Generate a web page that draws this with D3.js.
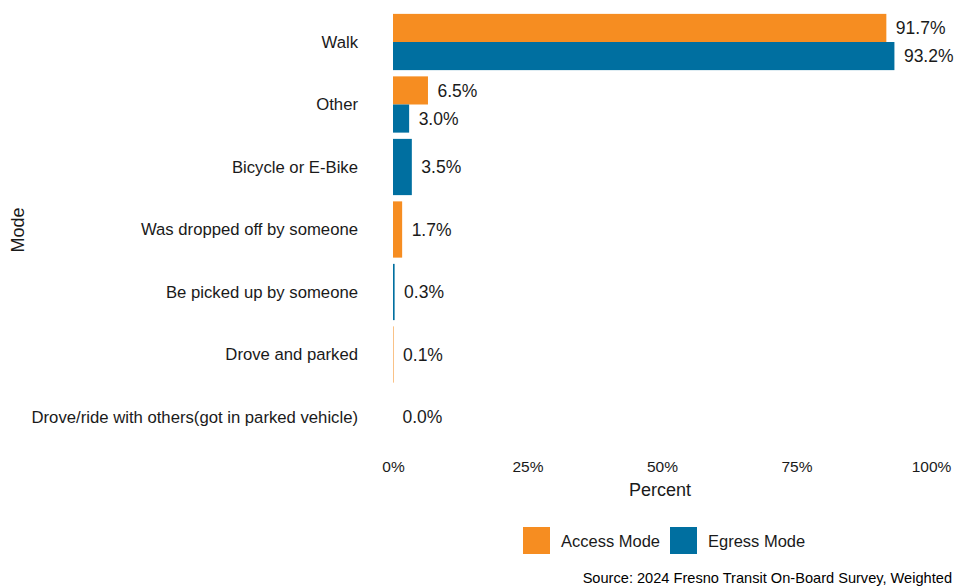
<!DOCTYPE html>
<html>
<head>
<meta charset="utf-8">
<script src="https://cdn.jsdelivr.net/npm/d3@7"></script>
<style>
  html, body { margin: 0; padding: 0; background: #fff; }
  svg { display: block; font-family: "Liberation Sans", Arial, sans-serif; }
</style>
</head>
<body>
<svg id="chart" width="954" height="586"></svg>
<script>
// Access / egress mode shares (percent), Fresno transit riders
const modes = [
  "Walk",
  "Other",
  "Bicycle or E-Bike",
  "Was dropped off by someone",
  "Be picked up by someone",
  "Drove and parked",
  "Drove/ride with others(got in parked vehicle)"
];
// null = no bar for that series in the category
const accessValues = [91.7, 6.5, null, 1.7, null, 0.1, null];
const egressValues = [93.2, 3.0, 3.5, null, 0.3, null, 0.0];
const seriesNames = ["Access Mode", "Egress Mode"];
const seriesColors = ["#F68D21", "#006FA0"];
const xTicks = [0, 25, 50, 75, 100];

const svg = d3.select("#chart");

// Horizontal value scale
const x = d3.scaleLinear().domain([0, 100]).range([393, 931]);
// Category centres
const y = d3.scalePoint().domain(modes).range([42, 417]);
const step = y.step();
const bandH = step * 0.9;

// Build bar records: dodge within a category only among the series present
const bars = [];
modes.forEach((m, i) => {
  const present = [];
  if (accessValues[i] !== null) present.push({ s: 0, v: accessValues[i] });
  if (egressValues[i] !== null) present.push({ s: 1, v: egressValues[i] });
  const h = bandH / present.length;
  present.forEach((p, k) => {
    bars.push({
      mode: m,
      series: p.s,
      value: p.v,
      y0: y(m) - bandH / 2 + k * h,
      h: h
    });
  });
});

const g = svg.append("g");

g.selectAll("rect.bar")
  .data(bars)
  .join("rect")
  .attr("class", "bar")
  .attr("x", x(0))
  .attr("y", d => d.y0)
  .attr("width", d => Math.max(0, x(d.value) - x(0)))
  .attr("height", d => d.h)
  .attr("fill", d => seriesColors[d.series]);

// Value labels
g.selectAll("text.val")
  .data(bars)
  .join("text")
  .attr("class", "val")
  .attr("x", d => x(d.value) + 9.5)
  .attr("y", d => d.y0 + d.h / 2)
  .attr("dy", "0.35em")
  .attr("font-size", 17.5)
  .attr("fill", "#1a1a1a")
  .text(d => d.value.toFixed(1) + "%");

// Category axis (labels only)
const yAxis = d3.axisLeft(y).tickSize(0).tickPadding(0);
const yg = svg.append("g").attr("transform", "translate(358,0)").call(yAxis);
yg.select(".domain").remove();
yg.selectAll("text")
  .attr("font-size", 16.7)
  .attr("fill", "#1a1a1a")
  .attr("font-family", "Liberation Sans, Arial, sans-serif");

// Value axis (labels only)
const xAxis = d3.axisBottom(x).tickValues(xTicks).tickFormat(d => d + "%").tickSize(0).tickPadding(0);
const xg = svg.append("g").attr("transform", "translate(0,461)").call(xAxis);
xg.select(".domain").remove();
xg.selectAll("text")
  .attr("font-size", 15.5)
  .attr("fill", "#1a1a1a")
  .attr("font-family", "Liberation Sans, Arial, sans-serif");

// Axis titles
svg.append("text")
  .attr("x", 660).attr("y", 496)
  .attr("text-anchor", "middle")
  .attr("font-size", 18)
  .attr("fill", "#1a1a1a")
  .text("Percent");

svg.append("text")
  .attr("transform", "translate(24,230) rotate(-90)")
  .attr("text-anchor", "middle")
  .attr("font-size", 18)
  .attr("fill", "#1a1a1a")
  .text("Mode");

// Legend
const legendX = [523, 670];
const lg = svg.append("g").selectAll("g")
  .data(seriesNames)
  .join("g")
  .attr("transform", (d, i) => `translate(${legendX[i]},527)`);
lg.append("rect")
  .attr("width", 27).attr("height", 27)
  .attr("fill", (d, i) => seriesColors[i]);
lg.append("text")
  .attr("x", 38).attr("y", 14).attr("dy", "0.35em")
  .attr("font-size", 16.5)
  .attr("fill", "#1a1a1a")
  .text(d => d);

// Caption
svg.append("text")
  .attr("x", 952).attr("y", 583)
  .attr("text-anchor", "end")
  .attr("font-size", 14.6)
  .attr("fill", "#000")
  .text("Source: 2024 Fresno Transit On-Board Survey, Weighted");
</script>
</body>
</html>
